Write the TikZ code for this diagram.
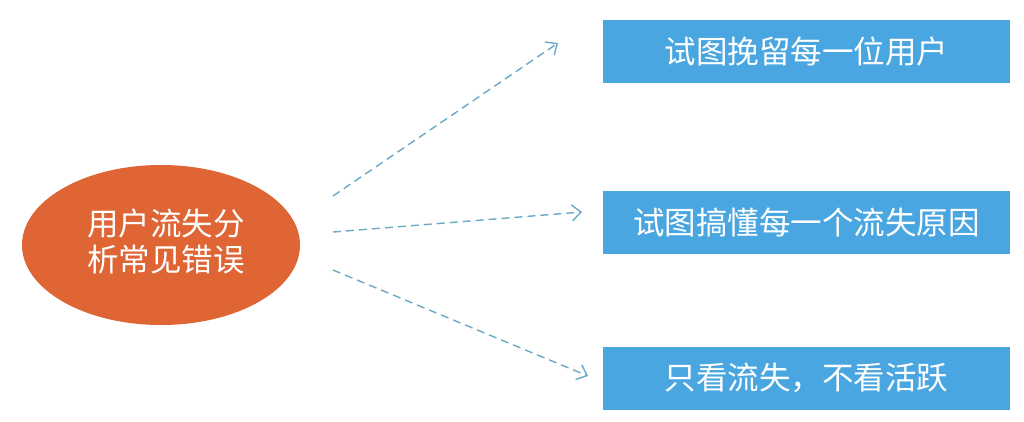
\documentclass[tikz,border=0pt]{standalone}
\usepackage{fontspec}
\newfontfamily\cjk{Noto Sans CJK SC}
\usetikzlibrary{arrows.meta}
\definecolor{orangefill}{HTML}{DF6534}
\definecolor{bluefill}{HTML}{4AA6E0}
\definecolor{arrowline}{HTML}{6AAAC9}
\tikzset{
  ovalnode/.style={ellipse, fill=orangefill, minimum width=278pt, minimum height=160pt, inner sep=0pt},
  boxnode/.style={rectangle, fill=bluefill, minimum width=407pt, minimum height=63pt, inner sep=0pt, text=white, font=\cjk\fontsize{31.5}{37}\selectfont},
  link/.style={draw=arrowline, line width=1.4pt, dash pattern=on 8pt off 5pt, -{Straight Barb[length=9pt, width=16pt, line width=1.4pt]}},
}
\usetikzlibrary{shapes.geometric}
\begin{document}
\begin{tikzpicture}[x=1pt,y=-1pt]
\useasboundingbox[fill=white] (0,0) rectangle (1024,422);
\node[ovalnode] (root) at (161,245) {};
\node[text=white, font=\cjk\fontsize{31.5}{36}\selectfont, align=center] (roottext) at (166,241) {用户流失分\\析常见错误};
\node[boxnode] (b1) at (806.5,51.5) {试图挽留每一位用户};
\node[boxnode] (b2) at (806.5,222.5) {试图搞懂每一个流失原因};
\node[boxnode] (b3) at (806.5,378) {只看流失，不看活跃};
\coordinate (s1) at (333,196);
\coordinate (e1) at (558,43);
\coordinate (s2) at (333,232);
\coordinate (e2) at (582,212);
\coordinate (s3) at (333,270);
\coordinate (e3) at (588,376);
\draw[link] (s1) -- (e1);
\draw[link] (s2) -- (e2);
\draw[link] (s3) -- (e3);
\end{tikzpicture}
\end{document}
